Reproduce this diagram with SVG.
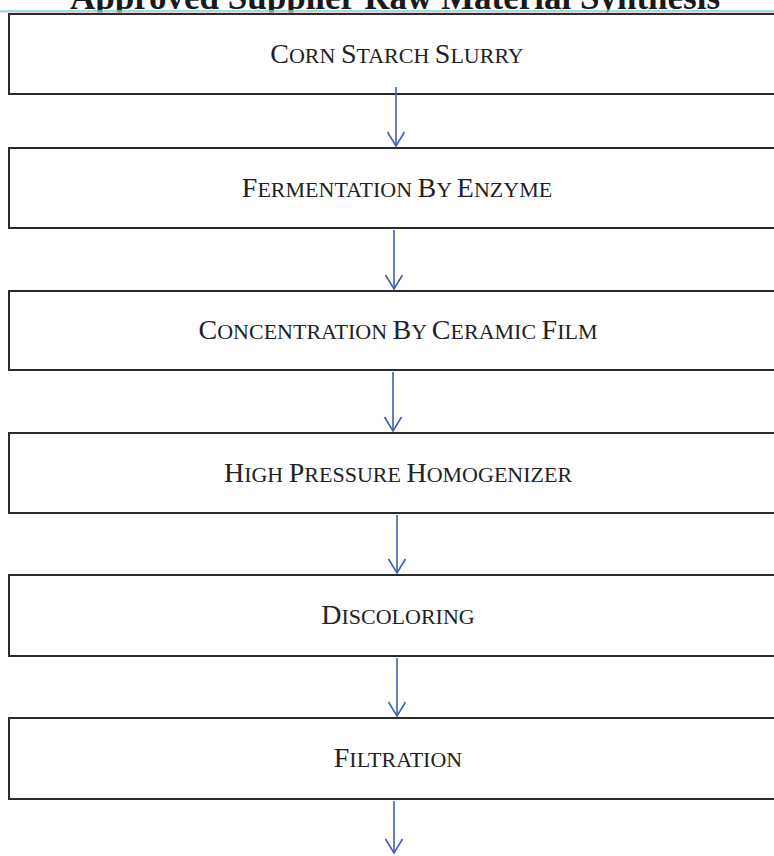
<svg xmlns="http://www.w3.org/2000/svg" width="774" height="856" viewBox="0 0 774 856">
  <style>
    .box { fill: #ffffff; stroke: #2b2b2b; stroke-width: 2; }
    .lbl { font-family: "Liberation Serif", "Times New Roman", serif; font-size: 22px; fill: #222222; text-anchor: middle; }
    .L { font-size: 28px; }
    .title { font-family: "Liberation Serif", "Times New Roman", serif; font-size: 35px; font-weight: bold; fill: #1a1a1a; text-anchor: middle; }
    .conn { stroke: #3f5fb3; stroke-width: 1.6; fill: none; }
  </style>
  <defs>
    <marker id="vhead" markerUnits="userSpaceOnUse" markerWidth="30" markerHeight="30" viewBox="-15 -15 30 30" refX="0" refY="0" orient="auto">
      <path d="M-14,-8.5 L0,0 L-14,8.5" fill="none" stroke="#3f5fb3" stroke-width="1.6"/>
    </marker>
  </defs>
  <rect x="0" y="0" width="774" height="856" fill="#ffffff"/>

  <g id="title">
    <text class="title" x="395" y="9">Approved Supplier Raw Material Synthesis</text>
    <line x1="0" y1="11" x2="774" y2="11" stroke="#74d6d4" stroke-width="1.5"/>
    <line x1="0" y1="12.5" x2="774" y2="12.5" stroke="#f0c8d8" stroke-width="0.8"/>
  </g>

  <g id="n1">
    <rect class="box" x="9" y="14" width="800" height="80"/>
    <text class="lbl" x="397" y="62.5"><tspan class="L">C</tspan>ORN <tspan class="L">S</tspan>TARCH <tspan class="L">S</tspan>LURRY</text>
  </g>
  <g id="n2">
    <rect class="box" x="9" y="148" width="800" height="80"/>
    <text class="lbl" x="397" y="196.5"><tspan class="L">F</tspan>ERMENTATION <tspan class="L">B</tspan>Y <tspan class="L">E</tspan>NZYME</text>
  </g>
  <g id="n3">
    <rect class="box" x="9" y="291" width="800" height="79"/>
    <text class="lbl" x="398" y="339"><tspan class="L">C</tspan>ONCENTRATION <tspan class="L">B</tspan>Y <tspan class="L">C</tspan>ERAMIC <tspan class="L">F</tspan>ILM</text>
  </g>
  <g id="n4">
    <rect class="box" x="9" y="433" width="800" height="80"/>
    <text class="lbl" x="398" y="481.5"><tspan class="L">H</tspan>IGH <tspan class="L">P</tspan>RESSURE <tspan class="L">H</tspan>OMOGENIZER</text>
  </g>
  <g id="n5">
    <rect class="box" x="9" y="575" width="800" height="81"/>
    <text class="lbl" x="398" y="623.5"><tspan class="L">D</tspan>ISCOLORING</text>
  </g>
  <g id="n6">
    <rect class="box" x="9" y="718" width="800" height="81"/>
    <text class="lbl" x="398" y="766.5"><tspan class="L">F</tspan>ILTRATION</text>
  </g>

  <g id="connectors">
    <line class="conn" x1="396" y1="87" x2="396" y2="146" marker-end="url(#vhead)"/>
    <line class="conn" x1="394" y1="230" x2="394" y2="289" marker-end="url(#vhead)"/>
    <line class="conn" x1="393" y1="372" x2="393" y2="431" marker-end="url(#vhead)"/>
    <line class="conn" x1="397" y1="515" x2="397" y2="573" marker-end="url(#vhead)"/>
    <line class="conn" x1="397" y1="658" x2="397" y2="716" marker-end="url(#vhead)"/>
    <line class="conn" x1="394" y1="801" x2="394" y2="853" marker-end="url(#vhead)"/>
  </g>
</svg>
